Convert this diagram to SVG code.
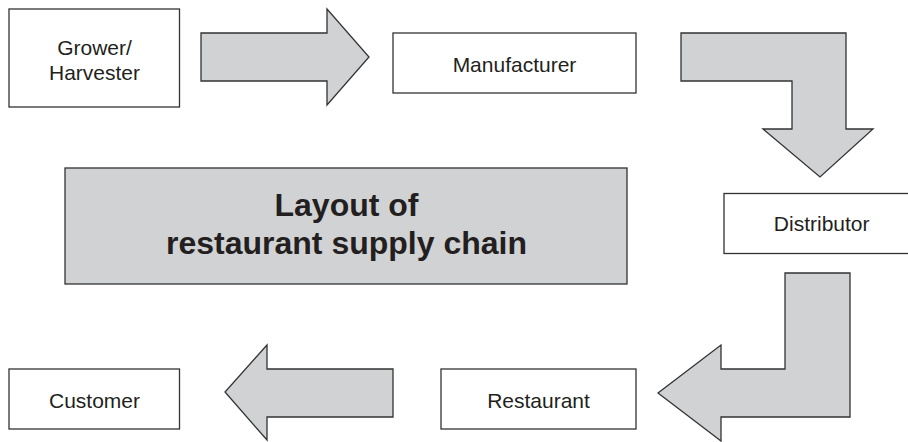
<svg xmlns="http://www.w3.org/2000/svg" width="908" height="442" viewBox="0 0 908 442">
  <style>
    .box { fill: #ffffff; stroke: #333333; stroke-width: 1.3; }
    .title { fill: #d1d2d4; stroke: #333333; stroke-width: 1.3; }
    .arrow { fill: #d1d2d4; stroke: #333333; stroke-width: 1.3; stroke-linejoin: miter; }
    .lbl { font-family: "Liberation Sans", Arial, sans-serif; font-size: 21px; fill: #231f20; text-anchor: middle; }
    .ttl { font-family: "Liberation Sans", Arial, sans-serif; font-size: 32px; font-weight: bold; fill: #231f20; text-anchor: middle; }
  </style>
  <rect width="908" height="442" fill="#ffffff"/>
  <g id="connectors">
    <polygon class="arrow" points="201,33 327,33 327,9 369,57 327,105 327,81 201,81"/>
    <polygon class="arrow" points="681,33 846,33 846,129 873,129 820,177 763,129 792,129 792,81 681,81"/>
    <polygon class="arrow" points="785,273 850,273 850,417 721,417 721,441 658,393 721,345 721,369 785,369"/>
    <polygon class="arrow" points="393,369 267,369 267,345 225,392 267,440 267,417 393,417"/>
  </g>
  <g id="grower">
    <rect class="box" x="9" y="9" width="170.5" height="98"/>
    <text class="lbl" x="94.5" y="55">Grower/</text>
    <text class="lbl" x="94.5" y="80">Harvester</text>
  </g>
  <g id="manufacturer">
    <rect class="box" x="393" y="33" width="243" height="60"/>
    <text class="lbl" x="514.5" y="71.5">Manufacturer</text>
  </g>
  <g id="title">
    <rect class="title" x="65" y="168" width="562" height="116"/>
    <text class="ttl" x="346.5" y="215.5">Layout of</text>
    <text class="ttl" x="346.5" y="254">restaurant supply chain</text>
  </g>
  <g id="distributor">
    <rect class="box" x="724" y="193.5" width="196" height="60"/>
    <text class="lbl" x="821.7" y="231">Distributor</text>
  </g>
  <g id="restaurant">
    <rect class="box" x="441" y="369" width="195" height="60"/>
    <text class="lbl" x="538.5" y="407.5">Restaurant</text>
  </g>
  <g id="customer">
    <rect class="box" x="9" y="369" width="170.5" height="60"/>
    <text class="lbl" x="94.5" y="407.5">Customer</text>
  </g>
</svg>
